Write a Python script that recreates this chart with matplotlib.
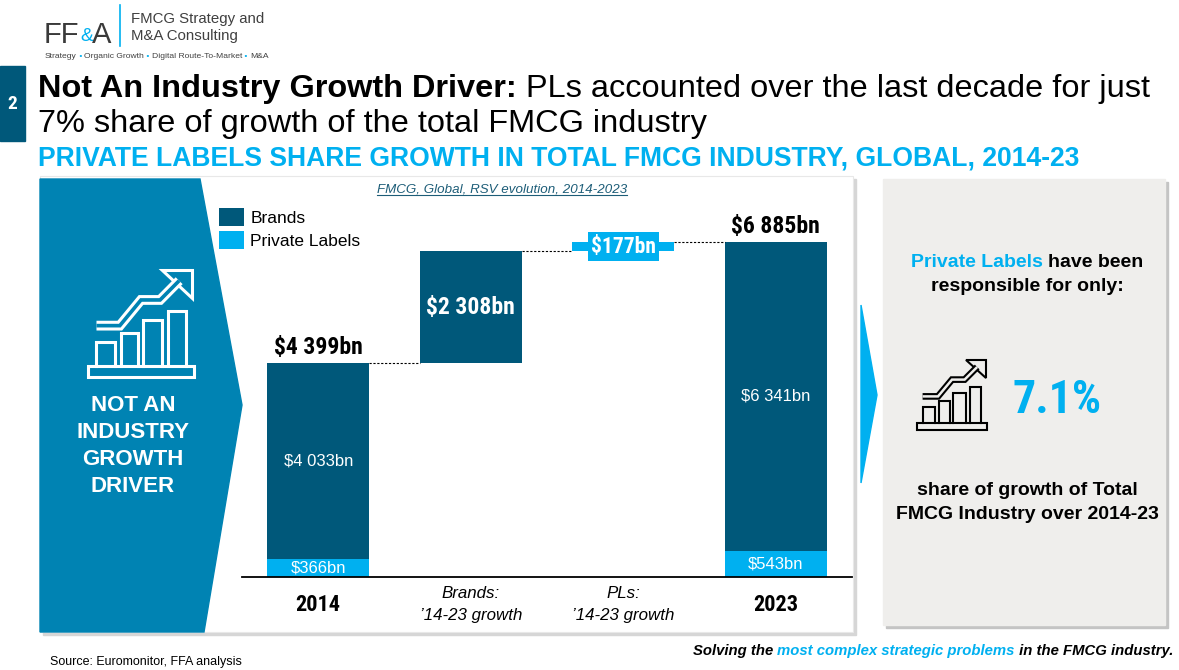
import matplotlib
matplotlib.use('Agg')
import matplotlib.pyplot as plt
from matplotlib import font_manager
from matplotlib.patches import Rectangle, Polygon

# values (RSV, $bn)
stages = ['2014', 'Brands:\n\u201914-23 growth', 'PLs:\n\u201914-23 growth', '2023']
brands_2014 = 4033
pls_2014 = 366
brands_growth = 2308
pls_growth = 177
brands_2023 = 6341
pls_2023 = 543
total_2014 = 4399
total_2023 = 6885
pl_share = 7.1

DARK = '#00587a'
LIGHT = '#00b0f0'
MID = '#0083b3'
GREY_TXT = '#404040'
PANEL = '#efeeec'

W, H = 1179, 670

# pick a condensed face for the big numbers if one is installed
ttf = font_manager.fontManager.ttflist
names = {f.name for f in ttf}
NARROW, STRETCH, NS = 'DejaVu Sans', 'normal', 0.72
for cand, scale in [('Liberation Sans Narrow', 1.0), ('Roboto Condensed', 1.0),
                    ('Open Sans Condensed', 0.95), ('DejaVu Sans Condensed', 0.8)]:
    if cand in names:
        NARROW, NS = cand, scale
        break
else:
    if any(f.name == 'DejaVu Sans' and 'condensed' in str(f.stretch) for f in ttf):
        STRETCH, NS = 'condensed', 0.8

plt.rcParams['font.family'] = ['Liberation Sans', 'DejaVu Sans']
NFONT = dict(family=NARROW, fontstretch=STRETCH, fontweight='bold')


def money(v):
    return '$' + f'{v:,}'.replace(',', ' ') + 'bn'


fig = plt.figure(figsize=(W / 100, H / 100), dpi=100)
bg = fig.add_axes([0, 0, 1, 1])
bg.set_xlim(0, W)
bg.set_ylim(H, 0)
bg.axis('off')


def chain(x, y, parts, ha='left', **kw):
    # parts: (text, colour, weight) pieces laid next to each other on one baseline
    if ha == 'left':
        s, c, wt = parts[0]
        t = bg.text(x, y, s, color=c, fontweight=wt, ha='left', va='baseline', **kw)
        for s, c, wt in parts[1:]:
            t = bg.annotate(s, xy=(1, 0), xycoords=t, color=c, fontweight=wt,
                            ha='left', va='bottom', **kw)
    else:
        s, c, wt = parts[-1]
        t = bg.text(x, y, s, color=c, fontweight=wt, ha='right', va='baseline', **kw)
        for s, c, wt in parts[-2::-1]:
            t = bg.annotate(s, xy=(0, 0), xycoords=t, color=c, fontweight=wt,
                            ha='right', va='bottom', **kw)


def draw_icon(x0, y0, w, h, fg, bgc, lw):
    X = lambda u: x0 + u * w
    Y = lambda v: y0 + v * h
    bg.add_patch(Rectangle((X(0), Y(0.9)), w, 0.1 * h, fill=False, ec=fg, lw=lw))
    for u0, u1, top in [(0.08, 0.25, 0.67), (0.31, 0.47, 0.59),
                        (0.52, 0.70, 0.47), (0.75, 0.92, 0.38)]:
        bg.plot([X(u0), X(u0), X(u1), X(u1)], [Y(0.9), Y(top), Y(top), Y(0.9)],
                color=fg, lw=lw, solid_joinstyle='miter')
    path = [(0.08, 0.52), (0.30, 0.52), (0.50, 0.28), (0.68, 0.28), (0.86, 0.10)]
    xs = [X(u) for u, v in path]
    ys = [Y(v) for u, v in path]
    bg.plot(xs, ys, color=fg, lw=lw * 3.2, solid_joinstyle='miter', solid_capstyle='butt')
    bg.plot(xs, ys, color=bgc, lw=lw * 1.2, solid_joinstyle='miter', solid_capstyle='butt')
    bg.add_patch(Polygon([(X(0.70), Y(0.0)), (X(0.98), Y(0.0)), (X(0.98), Y(0.26))],
                         closed=True, fc=bgc, ec=fg, lw=lw, joinstyle='miter'))


# logo
bg.text(44, 43, 'FF', fontsize=21, color='#3a3a3a', va='baseline')
bg.text(80, 41, '&', fontsize=14, color=LIGHT, va='baseline')
bg.text(92, 43, 'A', fontsize=21, color='#3a3a3a', va='baseline')
bg.plot([120, 120], [5, 46], color=LIGHT, lw=1.2)
bg.text(131, 23, 'FMCG Strategy and', fontsize=10.8, color=GREY_TXT, va='baseline')
bg.text(131, 40, 'M&A Consulting', fontsize=10.8, color=GREY_TXT, va='baseline')
chain(45, 58, [('Strategy', GREY_TXT, 'normal'), (' \u2022 ', LIGHT, 'normal'),
               ('Organic Growth', GREY_TXT, 'normal'), (' \u2022 ', LIGHT, 'normal'),
               ('Digital Route-To-Market', GREY_TXT, 'normal'), (' \u2022 ', LIGHT, 'normal'),
               ('M&A', GREY_TXT, 'normal')], fontsize=6.1)

# headline
bg.add_patch(Rectangle((0, 66), 25, 75, color=DARK))
bg.text(12.5, 104, '2', color='white', fontsize=13 * NS + 1, ha='center', va='center',
        **NFONT)
chain(38, 97, [('Not An Industry Growth Driver:', 'black', 'bold'),
               (' PLs accounted over the last decade for just', 'black', 'normal')],
      fontsize=23.4)
bg.text(38, 132, '7% share of growth of the total FMCG industry', fontsize=23.4,
        va='baseline')
bg.text(38, 166, 'PRIVATE LABELS SHARE GROWTH IN TOTAL FMCG INDUSTRY, GLOBAL, 2014-23',
        color=LIGHT, fontweight='bold', fontsize=19.1, va='baseline')

# chart panel + left chevron
bg.add_patch(Rectangle((43, 179), 813, 456, color='#d6d6d6'))
bg.add_patch(Rectangle((40, 176), 813, 456, fc='white', ec='#e8e8e8', lw=0.8))
bg.add_patch(Polygon([(40, 179), (200, 179), (242, 405), (204, 632), (40, 632)],
                     closed=True, color=MID))
draw_icon(88, 270, 106, 107, 'white', MID, 2.2)
for i, line in enumerate(['NOT AN', 'INDUSTRY', 'GROWTH', 'DRIVER']):
    bg.text(133, 411 + 27 * i, line, color='white', fontweight='bold', fontsize=16,
            ha='center', va='baseline')

ct = bg.text(502, 192, 'FMCG, Global, RSV evolution, 2014-2023', fontsize=9.6,
             style='italic', color='#1d5d78', ha='center', va='baseline')

# waterfall
ax = fig.add_axes([242 / W, (H - 577) / H, 610 / W, 387 / H])
ax.set_xlim(-0.5, 3.5)
ax.set_ylim(0, 7960)
ax.patch.set_alpha(0)
for s in ['top', 'right', 'left']:
    ax.spines[s].set_visible(False)
ax.spines['bottom'].set_linewidth(1.3)
ax.set_yticks([])

bw = 0.67
brand_x = [0, 1, 3]
brand_h = [brands_2014, brands_growth, brands_2023]
brand_b = [pls_2014, total_2014, pls_2023]
pl_x = [0, 2, 3]
pl_h = [pls_2014, pls_growth, pls_2023]
pl_b = [0, total_2014 + brands_growth, 0]
ax.bar(brand_x, brand_h, bw, bottom=brand_b, color=DARK, label='Brands')
ax.bar(pl_x, pl_h, bw, bottom=pl_b, color=LIGHT, label='Private Labels')

levels = [total_2014, total_2014 + brands_growth, total_2014 + brands_growth + pls_growth]
for i, lvl in enumerate(levels):
    ax.plot([i + bw / 2, i + 1 - bw / 2], [lvl, lvl], color='black', lw=0.8,
            ls=(0, (2, 1.5)))

big = dict(NFONT, fontsize=17 * NS)
ax.annotate(money(total_2014), (0, total_2014), xytext=(0, 3), textcoords='offset points',
            ha='center', va='bottom', color='black', **big)
ax.annotate(money(total_2023), (3, total_2023), xytext=(0, 3), textcoords='offset points',
            ha='center', va='bottom', color='black', **big)
ax.text(1, total_2014 + brands_growth / 2, money(brands_growth), ha='center', va='center',
        color='white', **big)
ax.text(2, levels[1] + pls_growth / 2, money(pls_growth), ha='center', va='center',
        color='white', bbox=dict(boxstyle='square,pad=0.15', fc=LIGHT, ec='none'),
        **dict(NFONT, fontsize=15.5 * NS))
ax.text(0, pls_2014 + brands_2014 / 2, money(brands_2014), ha='center', va='center',
        color='white', fontsize=12)
ax.text(3, pls_2023 + brands_2023 / 2, money(brands_2023), ha='center', va='center',
        color='white', fontsize=12)
ax.text(0, pls_2014 / 2, money(pls_2014), ha='center', va='center', color='white', fontsize=12)
ax.text(3, pls_2023 / 2, money(pls_2023), ha='center', va='center', color='white', fontsize=12)

ax.set_xticks(range(4), stages, va='center')
ax.tick_params(axis='x', length=0, pad=20)
for i, lab in enumerate(ax.get_xticklabels()):
    if i in (0, 3):
        lab.set_family(NARROW)
        lab.set_stretch(STRETCH)
        lab.set_fontweight('bold')
        lab.set_fontsize(16 * NS)
    else:
        lab.set_style('italic')
        lab.set_fontsize(12.2)
        lab.set_linespacing(1.55)

ax.legend(loc='upper left', bbox_to_anchor=(219 / W, 1 - 208 / H),
          bbox_transform=fig.transFigure, frameon=False, fontsize=12.5,
          handlelength=1.45, handleheight=1.2, handletextpad=0.35, labelspacing=0.3,
          borderpad=0, borderaxespad=0)

# right panel
bg.add_patch(Polygon([(861, 305), (877, 395), (861, 483)], closed=True, color=LIGHT))
bg.add_patch(Rectangle((886, 182), 282, 446, color='#c4c4c4'))
bg.add_patch(Rectangle((883, 179), 282, 446, color=PANEL))
bg.text(1043, 267, 'Private Labels', color=LIGHT, fontweight='bold', fontsize=14,
        ha='right', va='baseline')
bg.text(1048, 267, 'have been', color='black', fontweight='bold', fontsize=14,
        ha='left', va='baseline')
bg.text(1027, 291, 'responsible for only:', color='black', fontweight='bold', fontsize=14,
        ha='center', va='baseline')
draw_icon(917, 360, 70, 70, 'black', PANEL, 1.5)
bg.text(1057, 413, f'{pl_share}%', color=LIGHT, fontsize=33 * NS, ha='center',
        va='baseline', **NFONT)
bg.text(1027, 495, 'share of growth of Total', color='black', fontweight='bold',
        fontsize=14, ha='center', va='baseline')
bg.text(1027, 519, 'FMCG Industry over 2014-23', color='black', fontweight='bold',
        fontsize=14, ha='center', va='baseline')

# footer
bg.text(50, 665, 'Source: Euromonitor, FFA analysis', fontsize=9, va='baseline')
chain(1173, 655, [('Solving the ', 'black', 'bold'),
                  ('most complex strategic problems', LIGHT, 'bold'),
                  (' in the FMCG industry.', 'black', 'bold')],
      ha='right', fontsize=10.7, style='italic')

# underline under the chart caption
fig.canvas.draw()
ext = ct.get_window_extent()
(x0, _), (x1, _) = bg.transData.inverted().transform([(ext.x0, 0), (ext.x1, 0)])
bg.plot([x0, x1], [195, 195], color='#1d5d78', lw=0.8)

fig.savefig('out.png', dpi=100)
